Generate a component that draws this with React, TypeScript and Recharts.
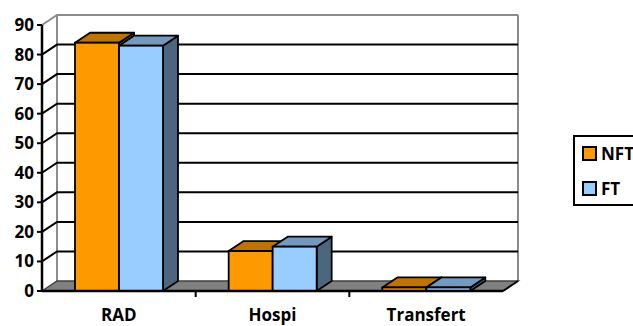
import { BarChart, Bar, XAxis, YAxis, CartesianGrid, Legend } from 'recharts';

const categories = ['RAD', 'Hospi', 'Transfert'];
const nftValues = [84, 13.5, 1.2];
const ftValues = [83, 15, 1.2];
const yTicks = [0, 10, 20, 30, 40, 50, 60, 70, 80, 90];
const seriesNames = ['NFT', 'FT'];

const data = categories.map((cat, i) => ({ cat, NFT: nftValues[i], FT: ftValues[i] }));

// 3D depth offset
const DX = 15;
const DY = -10;

const palette: Record<string, { front: string; top: string; side: string }> = {
  NFT: { front: '#FF9900', top: '#BF7300', side: '#804C00' },
  FT: { front: '#99CCFF', top: '#7399BF', side: '#4C6680' },
};

const makeBox = (name: string) => (props: any) => {
  const { x, y, width: w, height: h } = props;
  const c = palette[name];
  const top = `M${x},${y} L${x + DX},${y + DY} L${x + w + DX},${y + DY} L${x + w},${y} Z`;
  const side = `M${x + w},${y} L${x + w + DX},${y + DY} L${x + w + DX},${y + h + DY} L${x + w},${y + h} Z`;
  return (
    <g>
      <path d={side} fill={c.side} stroke="#000" strokeWidth={1.8} strokeLinejoin="round" />
      <path d={top} fill={c.top} stroke="#000" strokeWidth={1.8} strokeLinejoin="round" />
      <rect x={x} y={y} width={w} height={h} fill={c.front} stroke="#000" strokeWidth={1.8} />
    </g>
  );
};

// each horizontal grid line is drawn as a 3D wall line; the bottom one draws the floor,
// the top one the wall frame
const GridLine3D = (props: any) => {
  const { x1, y1, x2, x, y, width: w, height: h } = props;
  const gray = '#8c8c8c';
  if (Math.abs(y1 - (y + h)) < 1) {
    const by = y1;
    const floor = `M${x},${by} L${x + DX},${by + DY} L${x + w + DX},${by + DY} L${x + w},${by} Z`;
    return (
      <g>
        <line x1={x + DX} y1={y + DY} x2={x + DX} y2={by + DY} stroke={gray} strokeWidth={2} />
        <line x1={x + w + DX} y1={y + DY} x2={x + w + DX} y2={by + DY} stroke={gray} strokeWidth={2} />
        <path d={floor} fill="#808080" stroke="#404040" strokeWidth={1.5} />
        <line x1={x + w} y1={by} x2={x + w + DX} y2={by + DY} stroke="#000" strokeWidth={2} />
        {[1, 2].map((k) => (
          <line key={k} x1={x + (w * k) / 3} y1={by + 1} x2={x + (w * k) / 3} y2={by + 6} stroke="#000" strokeWidth={2} />
        ))}
      </g>
    );
  }
  const isTop = Math.abs(y1 - y) < 1;
  return (
    <path
      d={`M${x1},${y1} L${x1 + DX},${y1 + DY} L${x2 + DX},${y1 + DY}`}
      fill="none"
      stroke={isTop ? gray : '#000'}
      strokeWidth={2}
    />
  );
};

const CatTick = (props: any) => {
  const { x, y, payload } = props;
  return (
    <text x={x} y={y} dy={22} textAnchor="middle" fontSize={17} fontWeight="bold" fill="#000">
      {payload.value}
    </text>
  );
};

const LegendBox = () => (
  <div
    style={{
      position: 'absolute',
      left: 573,
      top: 135,
      width: 70,
      height: 71,
      border: '2px solid #000',
      boxSizing: 'border-box',
      background: '#fff',
    }}
  >
    {seriesNames.map((name, i) => (
      <div
        key={name}
        style={{ position: 'absolute', left: 7, top: 9 + i * 35, display: 'flex', alignItems: 'center', gap: 4 }}
      >
        <div style={{ width: 11, height: 11, background: palette[name].front, border: '2px solid #000' }} />
        <span style={{ fontSize: 17, fontWeight: 'bold', lineHeight: '15px' }}>{name}</span>
      </div>
    ))}
  </div>
);

export default function App() {
  return (
    <div
      style={{
        position: 'absolute',
        left: 0,
        top: 0,
        width: 633,
        height: 326,
        overflow: 'hidden',
        background: '#fff',
        fontFamily: '"Open Sans", "Liberation Sans", sans-serif',
      }}
    >
      <BarChart
        width={633}
        height={326}
        data={data}
        margin={{ top: 25, right: 130, left: 0, bottom: 0 }}
        barGap={0}
      >
        <CartesianGrid vertical={false} horizontal={GridLine3D} />
        <XAxis
          dataKey="cat"
          height={35}
          axisLine={{ stroke: '#000', strokeWidth: 2.5 }}
          tickLine={false}
          tick={<CatTick />}
          interval={0}
        />
        <YAxis
          width={42}
          domain={[0, 90]}
          ticks={yTicks}
          interval={0}
          axisLine={{ stroke: '#000', strokeWidth: 2.5 }}
          tickLine={{ stroke: '#000', strokeWidth: 2 }}
          tickSize={5}
          tickMargin={3}
          tick={{ fill: '#000', fontSize: 17, fontWeight: 'bold' }}
        />
        <Legend content={<LegendBox />} wrapperStyle={{ left: 0, top: 0, width: 0, height: 0 }} />
        <Bar dataKey="NFT" barSize={44} isAnimationActive={false} shape={makeBox('NFT')} />
        <Bar dataKey="FT" barSize={44} isAnimationActive={false} shape={makeBox('FT')} />
      </BarChart>
    </div>
  );
}
